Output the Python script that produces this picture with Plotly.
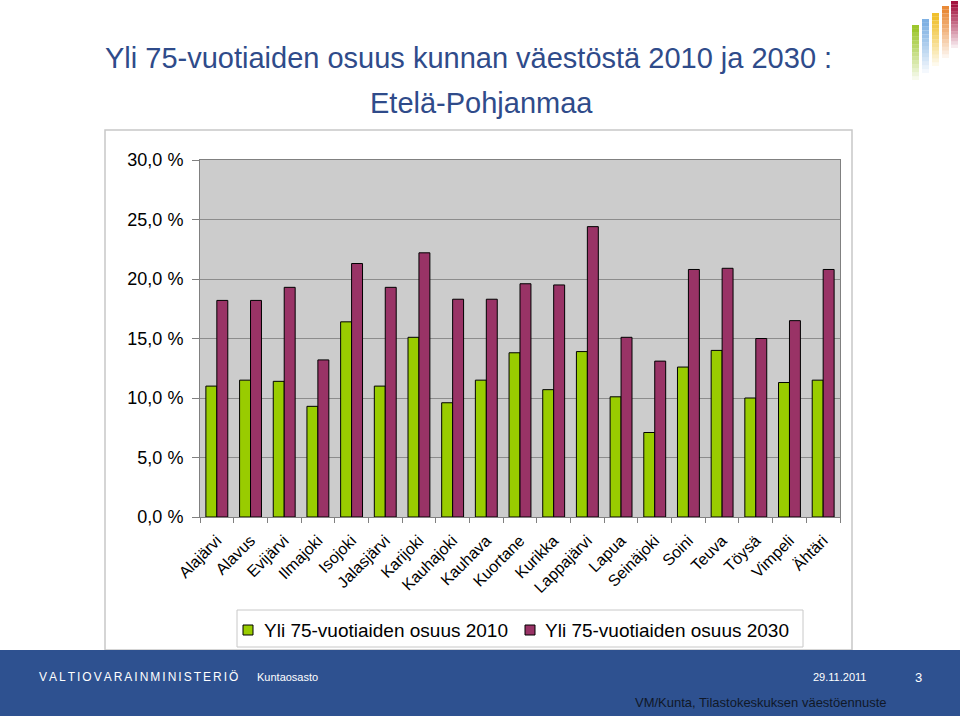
import plotly.graph_objects as go

# ---------------- data ----------------
municipalities = ["Alajärvi", "Alavus", "Evijärvi", "Ilmajoki", "Isojoki", "Jalasjärvi",
                  "Karijoki", "Kauhajoki", "Kauhava", "Kuortane", "Kurikka", "Lappajärvi",
                  "Lapua", "Seinäjoki", "Soini", "Teuva", "Töysä", "Vimpeli", "Ähtäri"]
share_2010 = [11.0, 11.5, 11.4, 9.3, 16.4, 11.0, 15.1, 9.6, 11.5, 13.8, 10.7, 13.9,
              10.1, 7.1, 12.6, 14.0, 10.0, 11.3, 11.5]
share_2030 = [18.2, 18.2, 19.3, 13.2, 21.3, 19.3, 22.2, 18.3, 18.3, 19.6, 19.5, 24.4,
              15.1, 13.1, 20.8, 20.9, 15.0, 16.5, 20.8]
series_names = ["Yli 75-vuotiaiden osuus 2010", "Yli 75-vuotiaiden osuus 2030"]
series_colors = ["#99CC00", "#993366"]
y_tickvals = [0, 5, 10, 15, 20, 25, 30]
y_ticktext = ["0,0 %", "5,0 %", "10,0 %", "15,0 %", "20,0 %", "25,0 %", "30,0 %"]

title_line1 = "Yli 75-vuotiaiden osuus kunnan väestöstä 2010 ja 2030 :"
title_line2 = "Etelä-Pohjanmaa"

# ---------------- layout helpers (pixel -> paper) ----------------
W, H = 960, 716
L, R, T, B = 200, 840, 160, 517


def px(x):
    return (x - L) / (R - L)


def py(y):
    return (B - y) / (B - T)


SANS = "Liberation Sans, Arial, Helvetica, sans-serif"

fig = go.Figure()
for name, vals, col in zip(series_names, [share_2010, share_2030], series_colors):
    fig.add_trace(go.Bar(x=municipalities, y=vals, name=name, showlegend=False,
                         hoverinfo="skip",
                         marker=dict(color=col, line=dict(color="#000000", width=1))))

shapes = []
# chart frame
shapes.append(dict(type="rect", xref="paper", yref="paper", x0=px(105), x1=px(852),
                   y0=py(650), y1=py(130), line=dict(color="#C8C8C8", width=1.5),
                   fillcolor="rgba(0,0,0,0)", layer="below"))
# legend frame
shapes.append(dict(type="rect", xref="paper", yref="paper", x0=px(237), x1=px(803),
                   y0=py(647), y1=py(610), line=dict(color="#C8C8C8", width=1),
                   fillcolor="#FFFFFF", layer="below"))
# legend keys
for col, kx in zip(series_colors, [243, 525]):
    shapes.append(dict(type="rect", xref="paper", yref="paper", x0=px(kx), x1=px(kx + 10),
                       y0=py(635), y1=py(625), line=dict(color="#000000", width=1),
                       fillcolor=col, layer="above"))
# footer band
shapes.append(dict(type="rect", xref="paper", yref="paper", x0=px(0), x1=px(960),
                   y0=py(716), y1=py(650), line=dict(width=0), fillcolor="#2E5190",
                   layer="above"))
# logo (fading bars)
logo = [("#9DC62D", 912, 919, 25, 80), ("#7FB1E3", 922, 929, 19, 73),
        ("#F0C02E", 932, 939, 13, 66), ("#E98A37", 942, 949, 6, 58),
        ("#A3143F", 951, 958, 1, 48)]
nseg = 14
for col, x0, x1, top, bot in logo:
    seg = (bot - top) / nseg
    for i in range(nseg):
        op = max(0.0, 1.0 - (i / nseg) ** 1.2) if i > 1 else 1.0
        shapes.append(dict(type="rect", xref="paper", yref="paper", x0=px(x0), x1=px(x1),
                           y0=py(top + (i + 1) * seg), y1=py(top + i * seg),
                           line=dict(width=0), fillcolor=col, opacity=op, layer="above"))

annotations = [
    dict(text=title_line1, x=px(468), y=py(58), font=dict(size=29, color="#2F4B8A")),
    dict(text=title_line2, x=px(481), y=py(103), font=dict(size=29, color="#2F4B8A")),
    dict(text=series_names[0], x=px(262), y=py(630), xanchor="left",
         font=dict(size=19, color="#000000")),
    dict(text=series_names[1], x=px(543), y=py(630), xanchor="left",
         font=dict(size=19, color="#000000")),
    dict(text="\u2006".join("VALTIOVARAINMINISTERIÖ"), x=px(37), y=py(677), xanchor="left",
         font=dict(size=12, color="#FFFFFF")),
    dict(text="Kuntaosasto", x=px(255), y=py(677), xanchor="left",
         font=dict(size=11, color="#FFFFFF")),
    dict(text="29.11.2011", x=px(811), y=py(677), xanchor="left",
         font=dict(size=11, color="#FFFFFF")),
    dict(text="3", x=px(918), y=py(677), font=dict(size=13, color="#FFFFFF")),
    dict(text="VM/Kunta, Tilastokeskuksen väestöennuste", x=px(633), y=py(702), xanchor="left",
         font=dict(size=13, color="#101828")),
]
for a in annotations:
    a.setdefault("xanchor", "center")
    a["font"]["family"] = SANS
    a.update(xref="paper", yref="paper", yanchor="middle", showarrow=False)

fig.update_layout(
    width=W, height=H,
    margin=dict(l=L, r=W - R, t=T, b=H - B, pad=0),
    paper_bgcolor="#FFFFFF", plot_bgcolor="#CCCCCC",
    barmode="group", bargap=0.35, bargroupgap=0,
    font=dict(family=SANS, color="#000000"),
    showlegend=False,
    shapes=shapes, annotations=annotations,
    xaxis=dict(showline=True, linecolor="#808080", linewidth=1, mirror=True,
               ticks="outside", tickson="boundaries", ticklen=5, tickcolor="#808080",
               tickangle=-45, tickfont=dict(family=SANS, size=16, color="#000000"),
               ticklabelstandoff=7, showgrid=False),
    yaxis=dict(range=[0, 30], tickvals=y_tickvals, ticktext=y_ticktext,
               showline=True, linecolor="#808080", linewidth=1, mirror=True,
               ticks="outside", ticklen=7, tickcolor="#808080",
               showgrid=True, gridcolor="#8C8C8C", gridwidth=1, zeroline=False,
               tickfont=dict(family=SANS, size=18, color="#000000"),
               ticklabelstandoff=5),
)

fig.write_html("out.html", config={"displayModeBar": False},
               post_script="document.body.style.margin='0';document.body.style.overflow='hidden';")
